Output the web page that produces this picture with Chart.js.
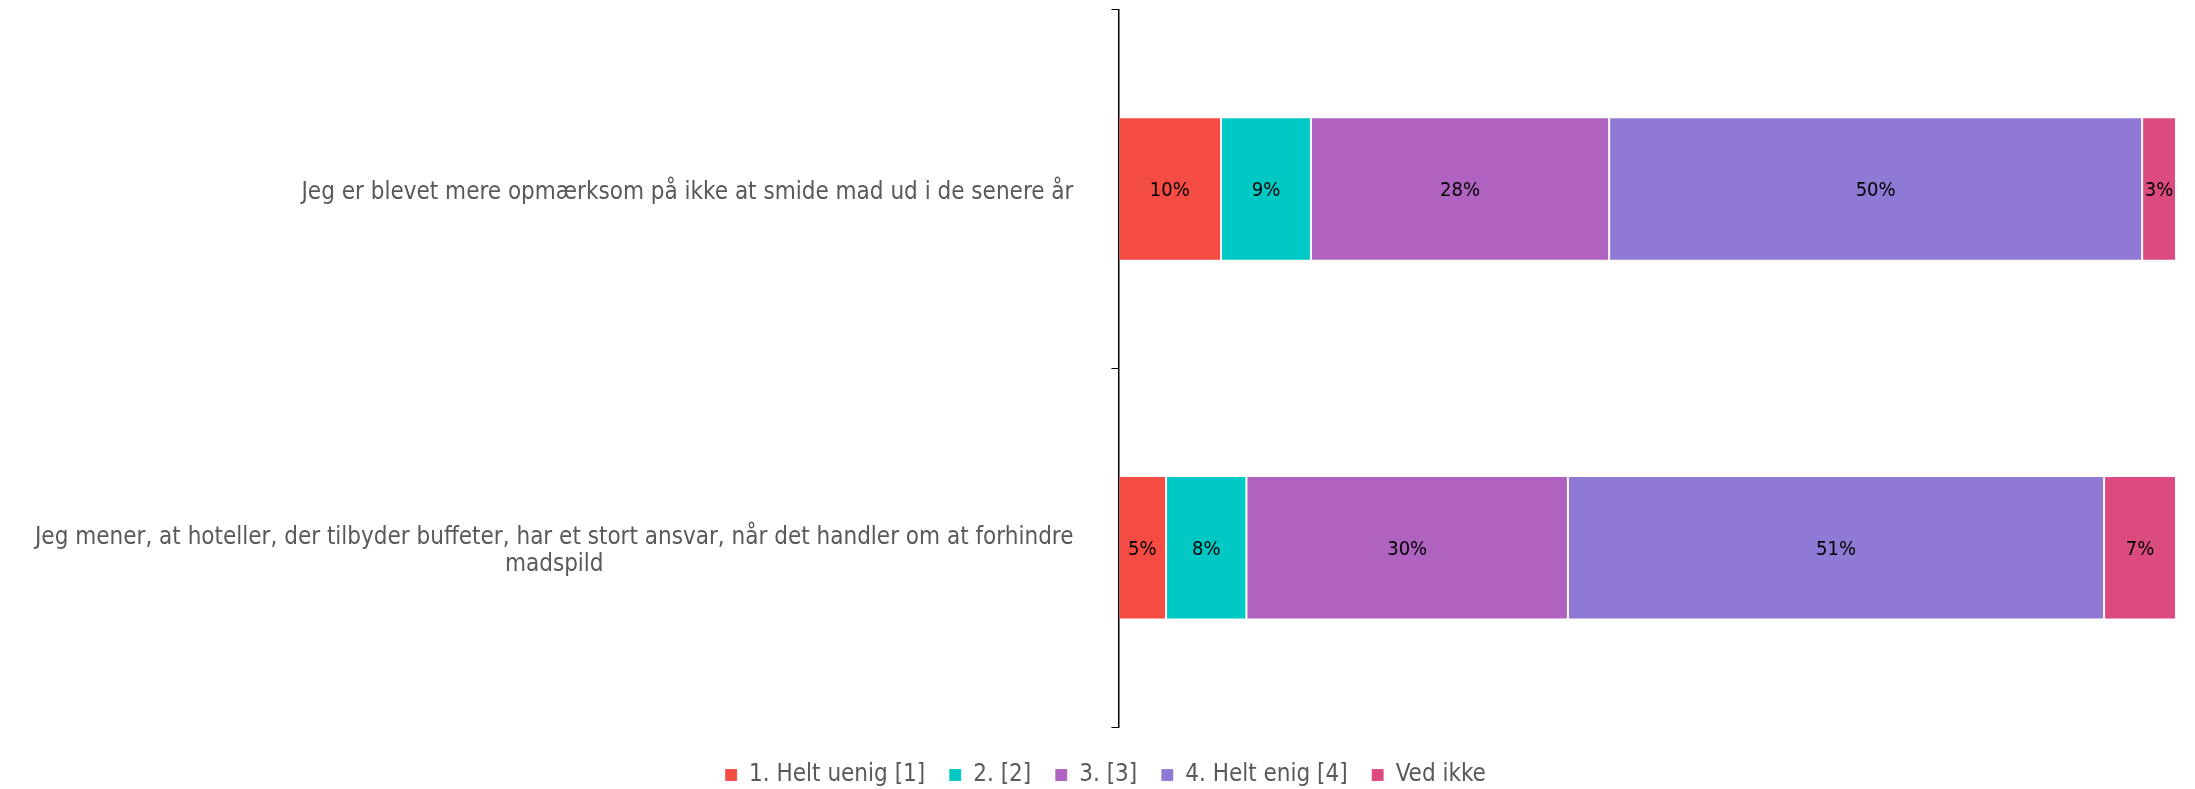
<!DOCTYPE html>
<html>
<head>
<meta charset="utf-8">
<script src="https://cdn.jsdelivr.net/npm/chart.js@4"></script>
<style>
  body { margin: 0; background: #fff; }
  #wrap { width: 2195px; height: 789px; }
</style>
</head>
<body>
<div id="wrap"><canvas id="madChart"></canvas></div>
<script>
// questions (y categories), second one wraps onto two lines
const questions = [
	["Jeg er blevet mere opmærksom på ikke at smide mad ud i de senere år"],
	["Jeg mener, at hoteller, der tilbyder buffeter, har et stort ansvar, når det handler om at forhindre", "madspild"]
];

const seriesNames = ["1. Helt uenig [1]", "2. [2]", "3. [3]", "4. Helt enig [4]", "Ved ikke"];

// percent per answer, one value per question
const heltUenig = [9.7, 4.5];
const svar2     = [8.5, 7.6];
const svar3     = [28.2, 30.4];
const heltEnig  = [50.4, 50.7];
const vedIkke   = [3.2, 6.8];

const seriesColours = ["#F44B42", "#00C8C5", "#B062C0", "#9079D5", "#DB4B80"];

const labelFont = "'DejaVu Sans Condensed', 'DejaVu Sans', sans-serif";
const greyText = "#595959";
const labelSize = 24;
const lineH = 27;
const labelGap = 38; // space between question text and tick marks

const allSeries = [heltUenig, svar2, svar3, heltEnig, vedIkke];

const datasets = allSeries.map(function(vals, i){
	return {
		label: seriesNames[i],
		data: vals,
		backgroundColor: seriesColours[i],
		borderColor: "rgba(255,255,255,0.15)",
		borderWidth: 1,
		borderSkipped: false,
		barPercentage: 0.4,
		categoryPercentage: 1.0
	};
});

// longest line of a question, used so the axis gets the right width
function longestLine(lines){
	return lines.reduce(function(a, b){ return b.length > a.length ? b : a; }, "");
}

// percent text in the middle of each segment
const segmentLabels = {
	id: "segmentLabels",
	afterDatasetsDraw(chart){
		const ctx = chart.ctx;
		ctx.save();
		ctx.font = "20px " + labelFont;
		ctx.fillStyle = "#000";
		ctx.textAlign = "center";
		ctx.textBaseline = "middle";
		chart.data.datasets.forEach(function(ds, i){
			const meta = chart.getDatasetMeta(i);
			meta.data.forEach(function(bar, j){
				const x = (bar.x + bar.base) / 2;
				ctx.fillText(Math.round(ds.data[j]) + "%", x, bar.y + 2);
			});
		});
		ctx.restore();
	}
};

// the y labels: right-aligned block, wrapped lines centered inside the block
const questionLabels = {
	id: "questionLabels",
	afterDraw(chart){
		const scale = chart.scales.y;
		const ctx = chart.ctx;
		ctx.save();
		ctx.font = labelSize + "px " + labelFont;
		ctx.fillStyle = greyText;
		ctx.textAlign = "center";
		ctx.textBaseline = "middle";
		questions.forEach(function(lines, i){
			const y = scale.getPixelForTick(i) + 4;
			let maxW = 0;
			lines.forEach(function(l){ maxW = Math.max(maxW, ctx.measureText(l).width); });
			const right = scale.right - 7 - labelGap;
			const cx = right - maxW / 2;
			const startY = y - (lines.length - 1) * lineH / 2;
			lines.forEach(function(l, k){
				ctx.fillText(l, cx, startY + k * lineH);
			});
		});
		ctx.restore();
	}
};

new Chart("madChart", {
	type: "bar",
	data: {
		labels: questions,
		datasets: datasets
	},
	options: {
		indexAxis: "y",
		responsive: true,
		maintainAspectRatio: false,
		animation: false,
		layout: { padding: { top: 0, right: 19, left: 35, bottom: -8 } },
		scales: {
			x: {
				stacked: true,
				min: 0,
				max: 100,
				grid: { display: false },
				border: { display: false },
				ticks: { display: false },
				afterFit: function(s){ s.height = 12; } // gap above the legend
			},
			y: {
				stacked: true,
				grid: {
					display: true,
					drawOnChartArea: false,
					drawTicks: true,
					tickLength: 7,
					color: "#000",
					offset: true
				},
				border: { display: true, color: "#000", width: 1.5 },
				ticks: {
					color: "rgba(0,0,0,0)", // drawn by questionLabels
					padding: 0,
					font: { family: labelFont, size: labelSize, lineHeight: 0.8 },
					callback: function(value, index){ return longestLine(questions[index]); }
				},
				afterFit: function(s){ s.width += labelGap; }
			}
		},
		plugins: {
			legend: {
				position: "bottom",
				labels: {
					color: greyText,
					boxWidth: 12,
					boxHeight: 12,
					padding: 24,
					font: { family: labelFont, size: labelSize }
				}
			},
			tooltip: { enabled: false }
		}
	},
	plugins: [segmentLabels, questionLabels]
});
</script>
</body>
</html>
